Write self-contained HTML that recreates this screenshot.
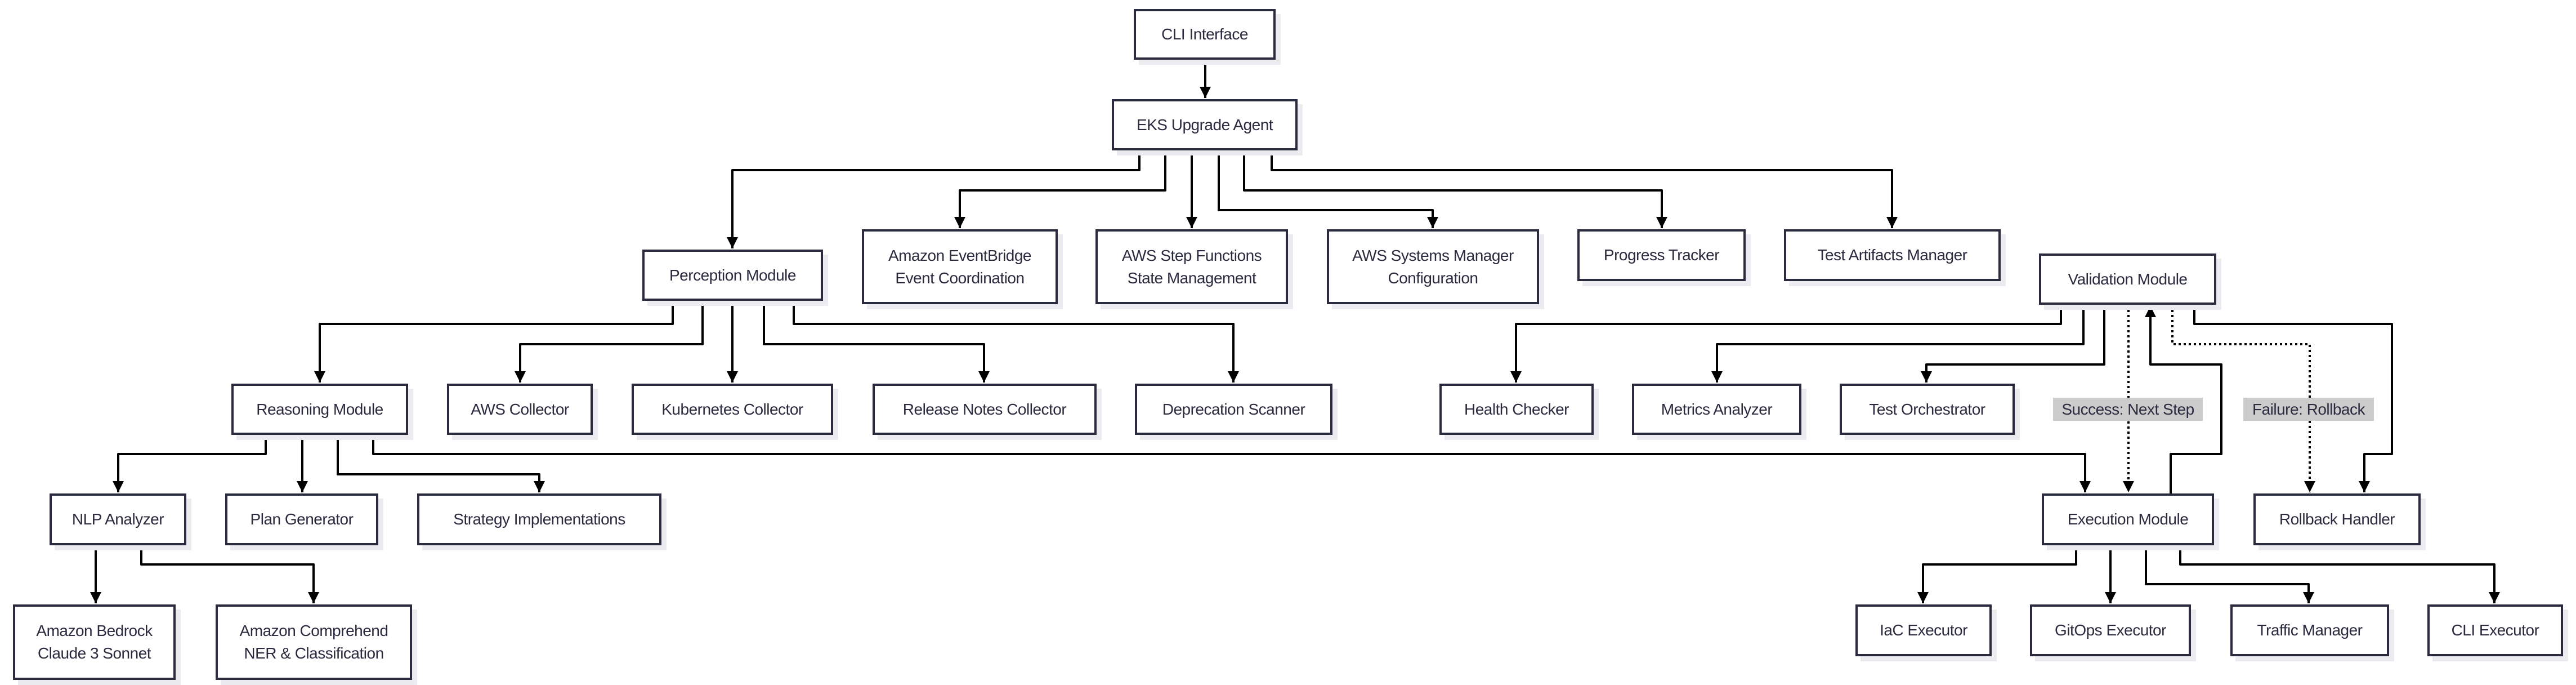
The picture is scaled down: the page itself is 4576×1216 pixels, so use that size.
<!DOCTYPE html>
<html><head><meta charset="utf-8"><style>
html,body{margin:0;padding:0;background:#fff;}
#c{position:relative;width:4576px;height:1216px;overflow:hidden;font-family:"Liberation Sans",sans-serif;}
.b{position:absolute;box-sizing:border-box;border:4px solid #2b2b40;background:#fff;box-shadow:9px 9px 0 #ebebf0;display:flex;align-items:center;justify-content:center;text-align:center;font-size:28px;line-height:40px;color:#2b2b40;letter-spacing:-0.5px;}
.l{position:absolute;background:#cccccc;font-size:28px;line-height:41px;color:#2b2b40;text-align:center;letter-spacing:-0.5px;}
svg{position:absolute;left:0;top:0;}
</style></head><body><div id="c">
<svg width="4576" height="1216">
<defs><marker id="a" markerUnits="userSpaceOnUse" markerWidth="22" markerHeight="22" refX="20" refY="10" orient="auto"><path d="M0,0 L20,10 L0,20 Z" fill="#000"/></marker></defs>
<g fill="none" stroke="#000" stroke-width="4" stroke-linejoin="round" marker-end="url(#a)">
<path d="M2141,106 V174"/>
<path d="M2024,267 V302 H1301 V441"/>
<path d="M2070,267 V338 H1705 V405"/>
<path d="M2117,267 V405"/>
<path d="M2165,267 V373 H2545 V405"/>
<path d="M2210,267 V338 H2952 V405"/>
<path d="M2259,267 V302 H3361 V405"/>
<path d="M1195,534 V575 H568 V679"/>
<path d="M1248,534 V611 H924 V679"/>
<path d="M1301,534 V679"/>
<path d="M1357,534 V611 H1748 V679"/>
<path d="M1410,534 V575 H2191 V679"/>
<path d="M472,772 V806 H210 V874"/>
<path d="M537,772 V874"/>
<path d="M600,772 V842 H958 V874"/>
<path d="M663,772 V806 H3704 V874"/>
<path d="M170,968 V1071"/>
<path d="M251,968 V1002 H557 V1071"/>
<path d="M3661,541 V575 H2693 V679"/>
<path d="M3701,541 V611 H3050 V679"/>
<path d="M3738,541 V647 H3422 V679"/>
<path d="M3898,541 V575 H4249 V806 H4200 V874"/>
<path d="M3856,876 V806 H3946 V647 H3820 V543"/>
<path d="M3688,968 V1002 H3416 V1071"/>
<path d="M3749,968 V1071"/>
<path d="M3812,968 V1037 H4101 V1071"/>
<path d="M3873,968 V1002 H4431 V1071"/>
<path d="M3781,541 V874" stroke-dasharray="4,5"/>
<path d="M3859,541 V611 H4103 V874" stroke-dasharray="4,5"/>
</g>
</svg>
<div class="b" style="left:2014px;top:16px;width:252px;height:90px">CLI Interface</div>
<div class="b" style="left:1975px;top:176px;width:330px;height:91px">EKS Upgrade Agent</div>
<div class="b" style="left:1141px;top:443px;width:321px;height:91px">Perception Module</div>
<div class="b" style="left:1531px;top:407px;width:348px;height:133px">Amazon EventBridge<br>Event Coordination</div>
<div class="b" style="left:1946px;top:407px;width:342px;height:133px">AWS Step Functions<br>State Management</div>
<div class="b" style="left:2357px;top:407px;width:377px;height:133px">AWS Systems Manager<br>Configuration</div>
<div class="b" style="left:2802px;top:407px;width:299px;height:92px">Progress Tracker</div>
<div class="b" style="left:3169px;top:407px;width:385px;height:92px">Test Artifacts Manager</div>
<div class="b" style="left:3622px;top:450px;width:315px;height:91px">Validation Module</div>
<div class="b" style="left:411px;top:681px;width:314px;height:91px">Reasoning Module</div>
<div class="b" style="left:794px;top:681px;width:259px;height:91px">AWS Collector</div>
<div class="b" style="left:1122px;top:681px;width:358px;height:91px">Kubernetes Collector</div>
<div class="b" style="left:1550px;top:681px;width:398px;height:91px">Release Notes Collector</div>
<div class="b" style="left:2016px;top:681px;width:351px;height:91px">Deprecation Scanner</div>
<div class="b" style="left:2557px;top:681px;width:274px;height:91px">Health Checker</div>
<div class="b" style="left:2899px;top:681px;width:301px;height:91px">Metrics Analyzer</div>
<div class="b" style="left:3268px;top:681px;width:311px;height:91px">Test Orchestrator</div>
<div class="l" style="left:3647px;top:706px;width:266px;height:41px">Success: Next Step</div>
<div class="l" style="left:3985px;top:706px;width:232px;height:41px">Failure: Rollback</div>
<div class="b" style="left:88px;top:876px;width:243px;height:92px">NLP Analyzer</div>
<div class="b" style="left:400px;top:876px;width:272px;height:92px">Plan Generator</div>
<div class="b" style="left:741px;top:876px;width:434px;height:92px">Strategy Implementations</div>
<div class="b" style="left:3627px;top:876px;width:306px;height:92px">Execution Module</div>
<div class="b" style="left:4003px;top:876px;width:297px;height:92px">Rollback Handler</div>
<div class="b" style="left:23px;top:1073px;width:289px;height:134px">Amazon Bedrock<br>Claude 3 Sonnet</div>
<div class="b" style="left:383px;top:1073px;width:349px;height:134px">Amazon Comprehend<br>NER &amp; Classification</div>
<div class="b" style="left:3296px;top:1073px;width:242px;height:92px">IaC Executor</div>
<div class="b" style="left:3606px;top:1073px;width:286px;height:92px">GitOps Executor</div>
<div class="b" style="left:3962px;top:1073px;width:282px;height:92px">Traffic Manager</div>
<div class="b" style="left:4312px;top:1073px;width:241px;height:92px">CLI Executor</div>
</div></body></html>
